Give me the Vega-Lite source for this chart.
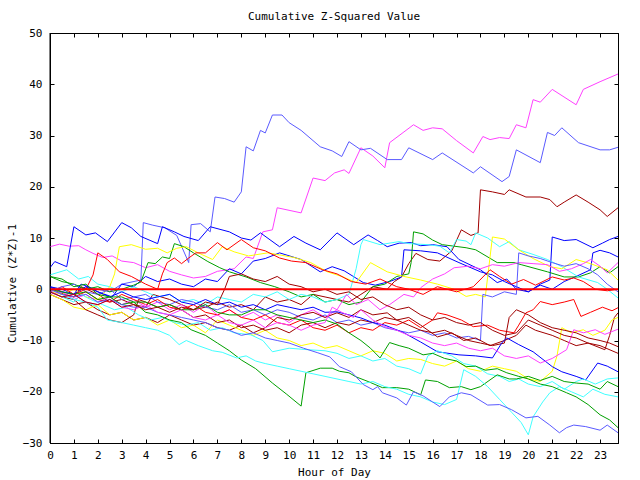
{
"$schema": "https://vega.github.io/schema/vega-lite/v6.json",
"width": 568, "height": 410,
"autosize": {"type": "none"},
"padding": {"left": 50, "top": 33, "right": 22, "bottom": 37},
"background": "white",
"title": {"text": "Cumulative Z-Squared Value", "font": "DejaVu Sans Mono", "fontSize": 11, "fontWeight": "normal", "color": "black", "anchor": "middle", "offset": 5},
"config": {
  "view": {"stroke": "black", "strokeWidth": 1},
  "axis": {"labelFont": "DejaVu Sans Mono", "labelFontSize": 11, "titleFont": "DejaVu Sans Mono", "titleFontSize": 11, "titleFontWeight": "normal", "labelColor": "black", "titleColor": "black", "domainColor": "black", "tickColor": "black", "grid": false}
},
"layer": [
{
"data": {"values": [
{"s":"a","h":0,"v":8.3},{"s":"a","h":0.4,"v":8.8},{"s":"a","h":0.8,"v":8.4},{"s":"a","h":1.2,"v":8.5},{"s":"a","h":1.5,"v":7.7},{"s":"a","h":1.8,"v":7},{"s":"a","h":2.2,"v":6.2},{"s":"a","h":2.6,"v":6.5},{"s":"a","h":3,"v":5.5},{"s":"a","h":3.5,"v":5.2},{"s":"a","h":4,"v":4.2},{"s":"a","h":4.5,"v":4.8},{"s":"a","h":5,"v":3.5},{"s":"a","h":5.5,"v":2.8},{"s":"a","h":6,"v":2.2},{"s":"a","h":6.5,"v":2.5},{"s":"a","h":7,"v":3.5},{"s":"a","h":7.7,"v":4},{"s":"a","h":8.2,"v":6.3},{"s":"a","h":8.5,"v":6},{"s":"a","h":8.9,"v":11.2},{"s":"a","h":9.3,"v":11.6},{"s":"a","h":9.5,"v":15.9},{"s":"a","h":10.5,"v":14.9},{"s":"a","h":11,"v":21.7},{"s":"a","h":11.5,"v":21.2},{"s":"a","h":11.9,"v":22.7},{"s":"a","h":12.3,"v":23.3},{"s":"a","h":12.5,"v":22.6},{"s":"a","h":13,"v":27.6},{"s":"a","h":13.5,"v":26},{"s":"a","h":14,"v":23.7},{"s":"a","h":14.2,"v":28.6},{"s":"a","h":14.8,"v":30.7},{"s":"a","h":15.2,"v":32.1},{"s":"a","h":15.6,"v":31},{"s":"a","h":16,"v":31.5},{"s":"a","h":16.4,"v":31.3},{"s":"a","h":17,"v":29},{"s":"a","h":17.7,"v":26.6},{"s":"a","h":18.1,"v":29.8},{"s":"a","h":18.4,"v":29.2},{"s":"a","h":18.8,"v":29.6},{"s":"a","h":19.2,"v":29.4},{"s":"a","h":19.5,"v":32.1},{"s":"a","h":19.9,"v":31.5},{"s":"a","h":20.2,"v":37},{"s":"a","h":20.5,"v":36.5},{"s":"a","h":21,"v":39},{"s":"a","h":22,"v":36},{"s":"a","h":22.3,"v":39},{"s":"a","h":23,"v":40.5},{"s":"a","h":23.75,"v":42},
{"s":"b","h":0,"v":0.3},{"s":"b","h":0.5,"v":-0.5},{"s":"b","h":1,"v":-1},{"s":"b","h":1.5,"v":0.5},{"s":"b","h":2,"v":0},{"s":"b","h":2.5,"v":-0.5},{"s":"b","h":3,"v":1},{"s":"b","h":3.8,"v":1.8},{"s":"b","h":3.9,"v":13},{"s":"b","h":4.3,"v":12.5},{"s":"b","h":4.8,"v":12},{"s":"b","h":5.3,"v":10.5},{"s":"b","h":5.8,"v":5.2},{"s":"b","h":5.9,"v":12.6},{"s":"b","h":6.3,"v":12.8},{"s":"b","h":6.7,"v":11.2},{"s":"b","h":6.9,"v":18},{"s":"b","h":7.3,"v":17.7},{"s":"b","h":7.7,"v":17},{"s":"b","h":8,"v":19},{"s":"b","h":8.2,"v":27.8},{"s":"b","h":8.5,"v":27},{"s":"b","h":8.8,"v":31},{"s":"b","h":9,"v":30.5},{"s":"b","h":9.3,"v":34},{"s":"b","h":9.7,"v":34},{"s":"b","h":10,"v":32.5},{"s":"b","h":10.5,"v":31},{"s":"b","h":11.3,"v":27.8},{"s":"b","h":11.8,"v":27},{"s":"b","h":12.2,"v":25.9},{"s":"b","h":12.5,"v":28.8},{"s":"b","h":13,"v":27.2},{"s":"b","h":13.4,"v":27.5},{"s":"b","h":14.1,"v":25.3},{"s":"b","h":14.7,"v":25.3},{"s":"b","h":15,"v":27.6},{"s":"b","h":16,"v":25.3},{"s":"b","h":16.4,"v":26.6},{"s":"b","h":17.7,"v":22.7},{"s":"b","h":18,"v":23.9},{"s":"b","h":18.9,"v":21},{"s":"b","h":19.2,"v":22},{"s":"b","h":19.5,"v":27.2},{"s":"b","h":20.5,"v":24.7},{"s":"b","h":20.8,"v":30.6},{"s":"b","h":21.1,"v":30},{"s":"b","h":21.4,"v":31.5},{"s":"b","h":22.1,"v":28.6},{"s":"b","h":23,"v":27.2},{"s":"b","h":23.4,"v":27.2},{"s":"b","h":23.75,"v":27.7},
{"s":"c","h":0,"v":0},{"s":"c","h":0.5,"v":-0.8},{"s":"c","h":1,"v":-1.5},{"s":"c","h":1.3,"v":0.5},{"s":"c","h":2,"v":-1},{"s":"c","h":2.5,"v":-2.5},{"s":"c","h":3,"v":-2},{"s":"c","h":3.5,"v":-3},{"s":"c","h":4,"v":-3.5},{"s":"c","h":4.3,"v":-1},{"s":"c","h":5,"v":-2},{"s":"c","h":5.5,"v":-3},{"s":"c","h":6,"v":-4},{"s":"c","h":6.5,"v":-3.5},{"s":"c","h":7,"v":-2.5},{"s":"c","h":7.5,"v":-3.5},{"s":"c","h":8,"v":-3},{"s":"c","h":8.5,"v":-4},{"s":"c","h":9,"v":-1.5},{"s":"c","h":9.5,"v":-2.5},{"s":"c","h":10,"v":-2},{"s":"c","h":10.5,"v":-3},{"s":"c","h":11,"v":-1},{"s":"c","h":11.5,"v":-1.5},{"s":"c","h":12,"v":-2},{"s":"c","h":12.5,"v":-2.5},{"s":"c","h":13,"v":-1},{"s":"c","h":13.5,"v":0.5},{"s":"c","h":14.1,"v":0},{"s":"c","h":14.4,"v":1.5},{"s":"c","h":14.7,"v":2.4},{"s":"c","h":15,"v":5},{"s":"c","h":15.3,"v":7},{"s":"c","h":15.8,"v":5.8},{"s":"c","h":16.3,"v":5.5},{"s":"c","h":16.8,"v":7.5},{"s":"c","h":17.2,"v":11.6},{"s":"c","h":17.6,"v":10.5},{"s":"c","h":17.9,"v":11},{"s":"c","h":18,"v":19.4},{"s":"c","h":18.5,"v":19},{"s":"c","h":19,"v":18.5},{"s":"c","h":19.2,"v":19.4},{"s":"c","h":19.9,"v":18},{"s":"c","h":20.5,"v":18},{"s":"c","h":20.9,"v":17.5},{"s":"c","h":21.2,"v":16.1},{"s":"c","h":21.5,"v":17},{"s":"c","h":22,"v":18.4},{"s":"c","h":22.5,"v":17},{"s":"c","h":23,"v":15.5},{"s":"c","h":23.3,"v":14.2},{"s":"c","h":23.75,"v":15.9},
{"s":"d","h":0,"v":4.2},{"s":"d","h":0.2,"v":5.4},{"s":"d","h":0.7,"v":4.4},{"s":"d","h":1,"v":12.2},{"s":"d","h":1.5,"v":10.6},{"s":"d","h":1.9,"v":11},{"s":"d","h":2.4,"v":9.3},{"s":"d","h":3,"v":13},{"s":"d","h":3.4,"v":12},{"s":"d","h":3.8,"v":10.3},{"s":"d","h":4.5,"v":8.9},{"s":"d","h":4.7,"v":12.2},{"s":"d","h":5.2,"v":11.2},{"s":"d","h":5.6,"v":10.3},{"s":"d","h":6.2,"v":9.5},{"s":"d","h":6.7,"v":12.2},{"s":"d","h":7.5,"v":11.2},{"s":"d","h":8,"v":10},{"s":"d","h":8.4,"v":9.6},{"s":"d","h":8.8,"v":11},{"s":"d","h":9.6,"v":8.3},{"s":"d","h":10.2,"v":10.3},{"s":"d","h":10.7,"v":9},{"s":"d","h":11.3,"v":7.7},{"s":"d","h":12,"v":11},{"s":"d","h":12.7,"v":8.7},{"s":"d","h":13.3,"v":10.6},{"s":"d","h":13.7,"v":9.5},{"s":"d","h":14.1,"v":8.3},{"s":"d","h":14.6,"v":9},{"s":"d","h":15.1,"v":9.1},{"s":"d","h":15.5,"v":8.5},{"s":"d","h":16,"v":8.7},{"s":"d","h":16.6,"v":8.3},{"s":"d","h":17.1,"v":5.8},{"s":"d","h":18,"v":3.8},{"s":"d","h":18.7,"v":1.3},{"s":"d","h":19.1,"v":2},{"s":"d","h":19.5,"v":0},{"s":"d","h":20,"v":-0.5},{"s":"d","h":20.5,"v":1},{"s":"d","h":20.9,"v":1.8},{"s":"d","h":21,"v":10.2},{"s":"d","h":21.5,"v":9.5},{"s":"d","h":22,"v":9.7},{"s":"d","h":22.7,"v":8.1},{"s":"d","h":23.1,"v":9},{"s":"d","h":23.4,"v":9.7},{"s":"d","h":23.75,"v":10.3},
{"s":"e","h":0,"v":0.5},{"s":"e","h":0.5,"v":0},{"s":"e","h":1,"v":-1},{"s":"e","h":1.5,"v":0.5},{"s":"e","h":2,"v":-0.5},{"s":"e","h":2.6,"v":-1.5},{"s":"e","h":3,"v":1},{"s":"e","h":3.5,"v":0.5},{"s":"e","h":4,"v":2.5},{"s":"e","h":4.5,"v":1.5},{"s":"e","h":5,"v":2},{"s":"e","h":5.5,"v":1},{"s":"e","h":6,"v":0.5},{"s":"e","h":6.5,"v":2},{"s":"e","h":7,"v":1.5},{"s":"e","h":7.5,"v":4},{"s":"e","h":8,"v":3},{"s":"e","h":8.5,"v":5.5},{"s":"e","h":9,"v":6},{"s":"e","h":9.6,"v":7.1},{"s":"e","h":10.5,"v":5.8},{"s":"e","h":11.3,"v":3.4},{"s":"e","h":11.8,"v":4.4},{"s":"e","h":12.3,"v":3.6},{"s":"e","h":13.1,"v":1.3},{"s":"e","h":13.6,"v":0.8},{"s":"e","h":14.2,"v":1.5},{"s":"e","h":14.7,"v":2.4},{"s":"e","h":14.8,"v":7.7},{"s":"e","h":15.5,"v":7.5},{"s":"e","h":16.2,"v":7.1},{"s":"e","h":17.1,"v":5.2},{"s":"e","h":18,"v":3.4},{"s":"e","h":18.5,"v":2.8},{"s":"e","h":19,"v":1.5},{"s":"e","h":19.5,"v":0.5},{"s":"e","h":20,"v":-0.5},{"s":"e","h":20.5,"v":0.8},{"s":"e","h":21,"v":0},{"s":"e","h":21.5,"v":1.5},{"s":"e","h":22,"v":2.5},{"s":"e","h":22.6,"v":3.8},{"s":"e","h":22.7,"v":7.1},{"s":"e","h":23,"v":7.6},{"s":"e","h":23.4,"v":7.1},{"s":"e","h":23.75,"v":6.3},
{"s":"f","h":0,"v":2.5},{"s":"f","h":0.5,"v":1.5},{"s":"f","h":1,"v":1},{"s":"f","h":1.5,"v":0},{"s":"f","h":2,"v":0.5},{"s":"f","h":2.5,"v":-0.5},{"s":"f","h":3,"v":0},{"s":"f","h":3.5,"v":0.8},{"s":"f","h":3.8,"v":1.4},{"s":"f","h":4.1,"v":5.2},{"s":"f","h":4.4,"v":5},{"s":"f","h":4.7,"v":6.3},{"s":"f","h":5,"v":6},{"s":"f","h":5.2,"v":8.9},{"s":"f","h":5.6,"v":8.3},{"s":"f","h":6,"v":7.1},{"s":"f","h":6.6,"v":5.4},{"s":"f","h":7.1,"v":4.2},{"s":"f","h":7.5,"v":3.4},{"s":"f","h":8.2,"v":2.4},{"s":"f","h":8.8,"v":1.3},{"s":"f","h":9.4,"v":0.5},{"s":"f","h":10,"v":-0.5},{"s":"f","h":10.5,"v":-1.5},{"s":"f","h":11,"v":-1},{"s":"f","h":11.5,"v":-2.5},{"s":"f","h":12,"v":-2},{"s":"f","h":12.5,"v":-3},{"s":"f","h":13,"v":-2.5},{"s":"f","h":13.5,"v":0.5},{"s":"f","h":14,"v":1},{"s":"f","h":14.5,"v":2.5},{"s":"f","h":15,"v":3},{"s":"f","h":15.1,"v":5.2},{"s":"f","h":15.2,"v":11.2},{"s":"f","h":15.6,"v":10.8},{"s":"f","h":16,"v":9.6},{"s":"f","h":16.4,"v":8.7},{"s":"f","h":17.4,"v":8.1},{"s":"f","h":17.8,"v":7.7},{"s":"f","h":18.7,"v":5.2},{"s":"f","h":19.4,"v":5.2},{"s":"f","h":19.7,"v":4.8},{"s":"f","h":20.8,"v":3.4},{"s":"f","h":21.5,"v":2.4},{"s":"f","h":22.1,"v":2.4},{"s":"f","h":22.6,"v":3.2},{"s":"f","h":23,"v":4.4},{"s":"f","h":23.4,"v":3.2},{"s":"f","h":23.75,"v":4.4},
{"s":"g","h":0,"v":2.8},{"s":"g","h":0.7,"v":3.8},{"s":"g","h":1.2,"v":2},{"s":"g","h":1.6,"v":2.5},{"s":"g","h":2,"v":1},{"s":"g","h":2.5,"v":0.5},{"s":"g","h":3,"v":-0.5},{"s":"g","h":3.5,"v":0.5},{"s":"g","h":4,"v":-0.5},{"s":"g","h":4.5,"v":-1.5},{"s":"g","h":5,"v":-1},{"s":"g","h":5.5,"v":-2.5},{"s":"g","h":6,"v":-2},{"s":"g","h":6.5,"v":-3},{"s":"g","h":7,"v":-1.5},{"s":"g","h":7.5,"v":-2},{"s":"g","h":8,"v":-2.5},{"s":"g","h":8.5,"v":-1},{"s":"g","h":9,"v":-1.5},{"s":"g","h":9.5,"v":-0.5},{"s":"g","h":10,"v":-2},{"s":"g","h":10.5,"v":-1},{"s":"g","h":11,"v":-1.5},{"s":"g","h":11.5,"v":-2.5},{"s":"g","h":12,"v":-2},{"s":"g","h":12.5,"v":-1},{"s":"g","h":12.8,"v":4},{"s":"g","h":13,"v":8.7},{"s":"g","h":13.1,"v":9.7},{"s":"g","h":13.8,"v":8.7},{"s":"g","h":14.6,"v":9.3},{"s":"g","h":15,"v":8.9},{"s":"g","h":15.8,"v":8.7},{"s":"g","h":16.3,"v":8.4},{"s":"g","h":16.7,"v":7.1},{"s":"g","h":17,"v":9.7},{"s":"g","h":17.4,"v":9.4},{"s":"g","h":17.6,"v":8.7},{"s":"g","h":17.8,"v":11},{"s":"g","h":18.3,"v":10},{"s":"g","h":18.8,"v":8.3},{"s":"g","h":19.2,"v":9.3},{"s":"g","h":19.6,"v":7.7},{"s":"g","h":20.2,"v":6.8},{"s":"g","h":20.8,"v":5.8},{"s":"g","h":21.4,"v":4.4},{"s":"g","h":22.1,"v":2.4},{"s":"g","h":22.9,"v":1.3},{"s":"g","h":23.3,"v":0},{"s":"g","h":23.75,"v":-1.7},
{"s":"h","h":0,"v":-0.5},{"s":"h","h":0.5,"v":-1},{"s":"h","h":1,"v":0},{"s":"h","h":1.5,"v":-1.5},{"s":"h","h":2,"v":-2},{"s":"h","h":2.5,"v":0.5},{"s":"h","h":2.7,"v":3},{"s":"h","h":2.9,"v":8.3},{"s":"h","h":3.4,"v":8.7},{"s":"h","h":4,"v":7.8},{"s":"h","h":4.5,"v":8},{"s":"h","h":4.9,"v":7.1},{"s":"h","h":5.3,"v":8},{"s":"h","h":5.7,"v":8.3},{"s":"h","h":6.2,"v":7.1},{"s":"h","h":6.8,"v":5.8},{"s":"h","h":7.2,"v":8.3},{"s":"h","h":7.7,"v":7.3},{"s":"h","h":8.3,"v":6.5},{"s":"h","h":9.1,"v":7.1},{"s":"h","h":9.6,"v":6.7},{"s":"h","h":10.2,"v":6.2},{"s":"h","h":10.9,"v":5.2},{"s":"h","h":11.6,"v":3.4},{"s":"h","h":12.2,"v":2.5},{"s":"h","h":12.8,"v":1.3},{"s":"h","h":13.4,"v":5.2},{"s":"h","h":14.1,"v":3.4},{"s":"h","h":14.8,"v":2.5},{"s":"h","h":15.5,"v":1.8},{"s":"h","h":16.2,"v":1},{"s":"h","h":16.9,"v":0},{"s":"h","h":17.4,"v":-1.4},{"s":"h","h":17.8,"v":-1},{"s":"h","h":18.2,"v":-1.5},{"s":"h","h":18.5,"v":10.2},{"s":"h","h":19,"v":9.8},{"s":"h","h":19.6,"v":7.7},{"s":"h","h":20.2,"v":6},{"s":"h","h":20.9,"v":4.4},{"s":"h","h":21.4,"v":4},{"s":"h","h":22,"v":5.8},{"s":"h","h":22.6,"v":5},{"s":"h","h":23.3,"v":3.8},{"s":"h","h":23.75,"v":1.8},
{"s":"i","h":0,"v":-1},{"s":"i","h":0.5,"v":-0.5},{"s":"i","h":1,"v":-2},{"s":"i","h":1.5,"v":-1},{"s":"i","h":2,"v":-2.5},{"s":"i","h":2.5,"v":-1.5},{"s":"i","h":3,"v":-3},{"s":"i","h":3.5,"v":-2},{"s":"i","h":4,"v":-3.5},{"s":"i","h":4.5,"v":-2.5},{"s":"i","h":5,"v":-4},{"s":"i","h":5.5,"v":-3},{"s":"i","h":6,"v":-4.5},{"s":"i","h":6.5,"v":-3},{"s":"i","h":7,"v":-5},{"s":"i","h":7.5,"v":-4},{"s":"i","h":8,"v":-5.5},{"s":"i","h":8.5,"v":-4.5},{"s":"i","h":9,"v":-6},{"s":"i","h":9.5,"v":-5},{"s":"i","h":10,"v":-6.5},{"s":"i","h":10.5,"v":-5},{"s":"i","h":11,"v":-4},{"s":"i","h":11.5,"v":-5.5},{"s":"i","h":12,"v":-4},{"s":"i","h":12.4,"v":-1},{"s":"i","h":12.8,"v":-3},{"s":"i","h":13.3,"v":-2},{"s":"i","h":13.8,"v":-4},{"s":"i","h":14.2,"v":-3},{"s":"i","h":14.8,"v":-1},{"s":"i","h":15.2,"v":-1.5},{"s":"i","h":15.5,"v":0.3},{"s":"i","h":16,"v":2},{"s":"i","h":16.5,"v":3},{"s":"i","h":16.9,"v":4.2},{"s":"i","h":17.5,"v":4.5},{"s":"i","h":18,"v":4},{"s":"i","h":18.5,"v":4.8},{"s":"i","h":19,"v":4.5},{"s":"i","h":19.6,"v":5.2},{"s":"i","h":20.2,"v":5},{"s":"i","h":20.8,"v":4.8},{"s":"i","h":21.3,"v":3.5},{"s":"i","h":21.8,"v":4},{"s":"i","h":22.3,"v":5},{"s":"i","h":22.6,"v":5.8},{"s":"i","h":23,"v":4.5},{"s":"i","h":23.3,"v":3.2},{"s":"i","h":23.75,"v":5.2},
{"s":"j","h":0,"v":-0.5},{"s":"j","h":0.5,"v":0.5},{"s":"j","h":1,"v":-1},{"s":"j","h":1.5,"v":0},{"s":"j","h":1.8,"v":2.8},{"s":"j","h":2,"v":7.1},{"s":"j","h":2.4,"v":5.8},{"s":"j","h":2.9,"v":3.4},{"s":"j","h":3.4,"v":2.5},{"s":"j","h":4,"v":1},{"s":"j","h":4.5,"v":0},{"s":"j","h":4.7,"v":3},{"s":"j","h":4.9,"v":5.2},{"s":"j","h":5.2,"v":6.1},{"s":"j","h":5.5,"v":5},{"s":"j","h":5.8,"v":6.1},{"s":"j","h":6.1,"v":7.1},{"s":"j","h":6.5,"v":7.1},{"s":"j","h":7,"v":9.1},{"s":"j","h":7.4,"v":7.7},{"s":"j","h":8,"v":9.7},{"s":"j","h":8.5,"v":8.1},{"s":"j","h":9,"v":7.5},{"s":"j","h":9.6,"v":6.1},{"s":"j","h":10.1,"v":5.5},{"s":"j","h":10.7,"v":5.2},{"s":"j","h":11.4,"v":3.8},{"s":"j","h":12,"v":3},{"s":"j","h":12.6,"v":1.5},{"s":"j","h":13.2,"v":1},{"s":"j","h":13.8,"v":2},{"s":"j","h":14.5,"v":0.5},{"s":"j","h":15,"v":0},{"s":"j","h":15.6,"v":-1},{"s":"j","h":16.2,"v":0.5},{"s":"j","h":17,"v":-0.5},{"s":"j","h":17.7,"v":0.5},{"s":"j","h":18.4,"v":3.8},{"s":"j","h":18.8,"v":2.5},{"s":"j","h":19.3,"v":1},{"s":"j","h":19.8,"v":1.9},{"s":"j","h":20.3,"v":0.8},{"s":"j","h":21,"v":2.4},{"s":"j","h":21.5,"v":1.8},{"s":"j","h":21.9,"v":2.2},{"s":"j","h":22.3,"v":1.5},{"s":"j","h":22.8,"v":0},{"s":"j","h":23.3,"v":-0.3},{"s":"j","h":23.75,"v":0},
{"s":"k","h":0,"v":-0.5},{"s":"k","h":0.5,"v":0.5},{"s":"k","h":1,"v":1},{"s":"k","h":1.5,"v":-0.5},{"s":"k","h":2,"v":-1},{"s":"k","h":2.5,"v":0},{"s":"k","h":3,"v":-2},{"s":"k","h":3.5,"v":-1.5},{"s":"k","h":4,"v":-1},{"s":"k","h":4.5,"v":-2.5},{"s":"k","h":5,"v":-3},{"s":"k","h":5.5,"v":-2},{"s":"k","h":6,"v":-2.5},{"s":"k","h":6.5,"v":-3.5},{"s":"k","h":7,"v":-4},{"s":"k","h":7.5,"v":-3},{"s":"k","h":8,"v":-4.5},{"s":"k","h":8.5,"v":-4},{"s":"k","h":9,"v":-5},{"s":"k","h":9.5,"v":-4},{"s":"k","h":10,"v":-4.5},{"s":"k","h":10.5,"v":-5.5},{"s":"k","h":11,"v":-6},{"s":"k","h":11.5,"v":-5},{"s":"k","h":12,"v":-6.5},{"s":"k","h":12.5,"v":-6},{"s":"k","h":13,"v":-7},{"s":"k","h":13.5,"v":-6.5},{"s":"k","h":14,"v":-7.5},{"s":"k","h":14.5,"v":-8},{"s":"k","h":15,"v":-8.5},{"s":"k","h":15.5,"v":-8},{"s":"k","h":16,"v":-9},{"s":"k","h":16.5,"v":-8.5},{"s":"k","h":17,"v":-9.5},{"s":"k","h":17.5,"v":-9.2},{"s":"k","h":18,"v":-10},{"s":"k","h":18.1,"v":-1},{"s":"k","h":18.5,"v":-1.5},{"s":"k","h":19,"v":-0.5},{"s":"k","h":19.5,"v":-1},{"s":"k","h":19.6,"v":7.1},{"s":"k","h":20,"v":6.5},{"s":"k","h":20.5,"v":6},{"s":"k","h":21,"v":5.2},{"s":"k","h":21.5,"v":4.5},{"s":"k","h":22,"v":5},{"s":"k","h":22.5,"v":4},{"s":"k","h":22.9,"v":2.8},{"s":"k","h":23.3,"v":1},{"s":"k","h":23.75,"v":-0.5},
{"s":"l","h":0,"v":0},{"s":"l","h":0.5,"v":-1},{"s":"l","h":1,"v":-1.5},{"s":"l","h":1.5,"v":-0.5},{"s":"l","h":2,"v":-2},{"s":"l","h":2.5,"v":-2.5},{"s":"l","h":3,"v":-1},{"s":"l","h":3.5,"v":-2},{"s":"l","h":4,"v":-3},{"s":"l","h":4.5,"v":-2},{"s":"l","h":5,"v":-3.5},{"s":"l","h":5.5,"v":-4},{"s":"l","h":6,"v":-3},{"s":"l","h":6.5,"v":-4.5},{"s":"l","h":7,"v":-5},{"s":"l","h":7.5,"v":-4},{"s":"l","h":8,"v":-5.5},{"s":"l","h":8.5,"v":-6},{"s":"l","h":9,"v":-5},{"s":"l","h":9.5,"v":-6.5},{"s":"l","h":10,"v":-7},{"s":"l","h":10.5,"v":-6},{"s":"l","h":11,"v":-7.5},{"s":"l","h":11.5,"v":-8},{"s":"l","h":12,"v":-7},{"s":"l","h":12.5,"v":-8.5},{"s":"l","h":13,"v":-7.5},{"s":"l","h":13.5,"v":-8},{"s":"l","h":14,"v":-6.5},{"s":"l","h":14.5,"v":-7},{"s":"l","h":15,"v":-6},{"s":"l","h":15.5,"v":-7.5},{"s":"l","h":16,"v":-6},{"s":"l","h":16.2,"v":-4.6},{"s":"l","h":16.6,"v":-5},{"s":"l","h":17.2,"v":-6},{"s":"l","h":17.7,"v":-7.3},{"s":"l","h":18.3,"v":-7},{"s":"l","h":18.8,"v":-8},{"s":"l","h":19.4,"v":-8.5},{"s":"l","h":19.6,"v":-7},{"s":"l","h":19.9,"v":-4.6},{"s":"l","h":20.2,"v":-4},{"s":"l","h":20.5,"v":-2.4},{"s":"l","h":21,"v":-3},{"s":"l","h":21.5,"v":-2.5},{"s":"l","h":21.9,"v":-2},{"s":"l","h":22.2,"v":-5.3},{"s":"l","h":22.6,"v":-4.5},{"s":"l","h":23.1,"v":-3.5},{"s":"l","h":23.5,"v":-4.2},{"s":"l","h":23.75,"v":-3.6},
{"s":"m","h":0,"v":-1},{"s":"m","h":0.5,"v":-2},{"s":"m","h":1,"v":-3},{"s":"m","h":1.5,"v":-2.5},{"s":"m","h":2,"v":-4},{"s":"m","h":2.5,"v":-5},{"s":"m","h":3,"v":-4.5},{"s":"m","h":3.5,"v":-6},{"s":"m","h":4,"v":-5.5},{"s":"m","h":4.5,"v":-6.5},{"s":"m","h":5,"v":-5},{"s":"m","h":5.5,"v":-6},{"s":"m","h":6,"v":-7},{"s":"m","h":6.5,"v":-6.5},{"s":"m","h":7,"v":-7.5},{"s":"m","h":7.5,"v":-8},{"s":"m","h":8,"v":-7},{"s":"m","h":8.5,"v":-8.5},{"s":"m","h":9,"v":-7.5},{"s":"m","h":9.5,"v":-5.5},{"s":"m","h":10,"v":-6},{"s":"m","h":10.5,"v":-5},{"s":"m","h":11,"v":-4.5},{"s":"m","h":11.5,"v":-5.5},{"s":"m","h":12,"v":-4.6},{"s":"m","h":12.5,"v":-5.5},{"s":"m","h":13,"v":-4},{"s":"m","h":13.5,"v":-5},{"s":"m","h":14.1,"v":-4.6},{"s":"m","h":14.5,"v":-6},{"s":"m","h":15,"v":-5.5},{"s":"m","h":15.5,"v":-7},{"s":"m","h":16.2,"v":-9.3},{"s":"m","h":16.8,"v":-8.5},{"s":"m","h":17.3,"v":-10},{"s":"m","h":17.8,"v":-9.5},{"s":"m","h":18.4,"v":-11},{"s":"m","h":19,"v":-10},{"s":"m","h":19.5,"v":-9},{"s":"m","h":19.9,"v":-7},{"s":"m","h":20.3,"v":-8},{"s":"m","h":21,"v":-9},{"s":"m","h":21.5,"v":-10},{"s":"m","h":22,"v":-11},{"s":"m","h":22.5,"v":-10.5},{"s":"m","h":23.2,"v":-11.8},{"s":"m","h":23.4,"v":-9},{"s":"m","h":23.6,"v":-5.5},{"s":"m","h":23.75,"v":-4.6},
{"s":"n","h":0,"v":-1},{"s":"n","h":0.5,"v":-2},{"s":"n","h":1,"v":-3.5},{"s":"n","h":1.5,"v":-4},{"s":"n","h":2,"v":-3},{"s":"n","h":2.5,"v":-5},{"s":"n","h":3,"v":-4.5},{"s":"n","h":3.5,"v":-6},{"s":"n","h":4,"v":-5.5},{"s":"n","h":4.5,"v":-7},{"s":"n","h":5,"v":-6},{"s":"n","h":5.5,"v":-7.5},{"s":"n","h":6,"v":-7},{"s":"n","h":6.5,"v":-8.5},{"s":"n","h":7,"v":-6},{"s":"n","h":7.5,"v":-7},{"s":"n","h":8,"v":-8},{"s":"n","h":8.5,"v":-9},{"s":"n","h":9,"v":-8},{"s":"n","h":9.5,"v":-9.5},{"s":"n","h":10,"v":-10},{"s":"n","h":10.5,"v":-11},{"s":"n","h":11,"v":-10.5},{"s":"n","h":11.5,"v":-11.5},{"s":"n","h":12,"v":-11},{"s":"n","h":12.5,"v":-12},{"s":"n","h":13,"v":-13},{"s":"n","h":13.5,"v":-12},{"s":"n","h":14,"v":-12.5},{"s":"n","h":14.5,"v":-14},{"s":"n","h":15,"v":-13.5},{"s":"n","h":15.5,"v":-13.7},{"s":"n","h":16,"v":-14.5},{"s":"n","h":16.5,"v":-15},{"s":"n","h":17,"v":-14},{"s":"n","h":17.5,"v":-15.5},{"s":"n","h":18,"v":-16},{"s":"n","h":18.5,"v":-15},{"s":"n","h":19,"v":-15.5},{"s":"n","h":19.5,"v":-16},{"s":"n","h":20,"v":-17.5},{"s":"n","h":20.5,"v":-18},{"s":"n","h":21,"v":-16},{"s":"n","h":21.2,"v":-13},{"s":"n","h":21.4,"v":-7.5},{"s":"n","h":21.8,"v":-8.5},{"s":"n","h":22.3,"v":-7.9},{"s":"n","h":22.7,"v":-9},{"s":"n","h":23.2,"v":-8},{"s":"n","h":23.5,"v":-6},{"s":"n","h":23.75,"v":-5.5},
{"s":"o","h":0,"v":-0.5},{"s":"o","h":0.5,"v":-1.5},{"s":"o","h":1,"v":-2},{"s":"o","h":1.5,"v":-4},{"s":"o","h":2,"v":-5},{"s":"o","h":2.5,"v":-6},{"s":"o","h":3,"v":-6.5},{"s":"o","h":3.5,"v":-5},{"s":"o","h":3.7,"v":-2},{"s":"o","h":4,"v":-2.5},{"s":"o","h":4.5,"v":-3.5},{"s":"o","h":5,"v":-3},{"s":"o","h":5.5,"v":-4},{"s":"o","h":6,"v":-5.5},{"s":"o","h":6.5,"v":-5},{"s":"o","h":7,"v":-6.5},{"s":"o","h":7.5,"v":-6},{"s":"o","h":8,"v":-7.5},{"s":"o","h":8.5,"v":-7},{"s":"o","h":9,"v":-8},{"s":"o","h":9.5,"v":-7.5},{"s":"o","h":10,"v":-8.5},{"s":"o","h":10.5,"v":-7},{"s":"o","h":11,"v":-6.5},{"s":"o","h":11.5,"v":-7.5},{"s":"o","h":12,"v":-6.5},{"s":"o","h":12.5,"v":-7},{"s":"o","h":13,"v":-6},{"s":"o","h":13.5,"v":-6.5},{"s":"o","h":14,"v":-5.5},{"s":"o","h":14.5,"v":-6},{"s":"o","h":15,"v":-7},{"s":"o","h":15.5,"v":-8},{"s":"o","h":16,"v":-8.5},{"s":"o","h":16.5,"v":-8},{"s":"o","h":17,"v":-9},{"s":"o","h":17.5,"v":-10},{"s":"o","h":18,"v":-10.5},{"s":"o","h":18.5,"v":-11},{"s":"o","h":19,"v":-10.5},{"s":"o","h":19.2,"v":-5.5},{"s":"o","h":19.5,"v":-4},{"s":"o","h":20,"v":-5},{"s":"o","h":20.5,"v":-6.5},{"s":"o","h":21,"v":-7.5},{"s":"o","h":21.5,"v":-8},{"s":"o","h":22,"v":-8.5},{"s":"o","h":22.5,"v":-9.5},{"s":"o","h":23,"v":-10},{"s":"o","h":23.4,"v":-10.5},{"s":"o","h":23.75,"v":-11.2},
{"s":"p","h":0,"v":0.5},{"s":"p","h":0.5,"v":-0.5},{"s":"p","h":1,"v":-1},{"s":"p","h":1.3,"v":1},{"s":"p","h":1.6,"v":0.5},{"s":"p","h":2,"v":-0.5},{"s":"p","h":2.5,"v":-1.5},{"s":"p","h":3,"v":-0.5},{"s":"p","h":3.5,"v":-1.5},{"s":"p","h":4,"v":-2},{"s":"p","h":4.5,"v":-1.5},{"s":"p","h":5,"v":-1},{"s":"p","h":5.5,"v":-2.5},{"s":"p","h":6,"v":-3},{"s":"p","h":6.5,"v":-2},{"s":"p","h":7,"v":-3},{"s":"p","h":7.5,"v":-2.5},{"s":"p","h":8,"v":-3.5},{"s":"p","h":8.5,"v":-3},{"s":"p","h":9,"v":-4},{"s":"p","h":9.5,"v":-3},{"s":"p","h":10,"v":-3.5},{"s":"p","h":10.5,"v":-4},{"s":"p","h":11,"v":-3.5},{"s":"p","h":11.5,"v":-4.5},{"s":"p","h":12,"v":-4.4},{"s":"p","h":12.5,"v":-5},{"s":"p","h":13,"v":-5.6},{"s":"p","h":13.5,"v":-6.5},{"s":"p","h":14,"v":-7},{"s":"p","h":14.8,"v":-8.5},{"s":"p","h":15.5,"v":-10.3},{"s":"p","h":16.2,"v":-12.2},{"s":"p","h":17.1,"v":-12.8},{"s":"p","h":17.8,"v":-13},{"s":"p","h":18.5,"v":-13.4},{"s":"p","h":18.9,"v":-10.4},{"s":"p","h":19.1,"v":-9.5},{"s":"p","h":19.6,"v":-10.8},{"s":"p","h":20.2,"v":-12.2},{"s":"p","h":21,"v":-15.1},{"s":"p","h":21.4,"v":-16.1},{"s":"p","h":22,"v":-17},{"s":"p","h":22.4,"v":-17.7},{"s":"p","h":22.9,"v":-14.4},{"s":"p","h":23.3,"v":-15},{"s":"p","h":23.75,"v":-16.1},
{"s":"q","h":0,"v":-0.5},{"s":"q","h":0.5,"v":-1.5},{"s":"q","h":1,"v":-2.5},{"s":"q","h":1.3,"v":-1},{"s":"q","h":1.7,"v":-2},{"s":"q","h":2.2,"v":-3},{"s":"q","h":2.7,"v":-4},{"s":"q","h":3.2,"v":-3.5},{"s":"q","h":3.7,"v":-5},{"s":"q","h":4.2,"v":-6},{"s":"q","h":4.7,"v":-5.5},{"s":"q","h":5.2,"v":-6.5},{"s":"q","h":5.7,"v":-7},{"s":"q","h":6.2,"v":-6.5},{"s":"q","h":6.7,"v":-8},{"s":"q","h":7.2,"v":-7.5},{"s":"q","h":7.7,"v":-8.5},{"s":"q","h":8.4,"v":-8.9},{"s":"q","h":8.9,"v":-10},{"s":"q","h":9.3,"v":-12.2},{"s":"q","h":10,"v":-11.5},{"s":"q","h":10.8,"v":-11.8},{"s":"q","h":11.5,"v":-12},{"s":"q","h":12,"v":-12.5},{"s":"q","h":12.5,"v":-13.5},{"s":"q","h":13,"v":-13},{"s":"q","h":13.5,"v":-14},{"s":"q","h":14,"v":-13.5},{"s":"q","h":14.5,"v":-15},{"s":"q","h":15,"v":-15.5},{"s":"q","h":15.5,"v":-16.5},{"s":"q","h":15.8,"v":-13},{"s":"q","h":16.2,"v":-12},{"s":"q","h":16.8,"v":-13},{"s":"q","h":17.3,"v":-14.5},{"s":"q","h":17.8,"v":-15},{"s":"q","h":18.3,"v":-16.5},{"s":"q","h":18.8,"v":-17},{"s":"q","h":19.2,"v":-18},{"s":"q","h":19.6,"v":-17.5},{"s":"q","h":20,"v":-18.5},{"s":"q","h":20.5,"v":-19},{"s":"q","h":21,"v":-18},{"s":"q","h":21.5,"v":-19.5},{"s":"q","h":22,"v":-18},{"s":"q","h":22.3,"v":-17.5},{"s":"q","h":22.8,"v":-18.5},{"s":"q","h":23.3,"v":-17.5},{"s":"q","h":23.75,"v":-17.3},
{"s":"r","h":0,"v":2.5},{"s":"r","h":0.5,"v":2},{"s":"r","h":1,"v":0.5},{"s":"r","h":1.5,"v":1},{"s":"r","h":2,"v":-1},{"s":"r","h":2.5,"v":-1.5},{"s":"r","h":3,"v":-3},{"s":"r","h":3.5,"v":-2.5},{"s":"r","h":4,"v":-4.5},{"s":"r","h":4.5,"v":-5},{"s":"r","h":5,"v":-6},{"s":"r","h":5.5,"v":-6.5},{"s":"r","h":5.9,"v":-7.9},{"s":"r","h":6.5,"v":-9},{"s":"r","h":7,"v":-10.5},{"s":"r","h":7.5,"v":-12},{"s":"r","h":8,"v":-13.8},{"s":"r","h":8.6,"v":-15.5},{"s":"r","h":9.3,"v":-18.3},{"s":"r","h":9.9,"v":-20.5},{"s":"r","h":10.5,"v":-22.8},{"s":"r","h":10.7,"v":-16.3},{"s":"r","h":11.3,"v":-15.4},{"s":"r","h":11.8,"v":-15.4},{"s":"r","h":12.1,"v":-16},{"s":"r","h":12.5,"v":-16.3},{"s":"r","h":12.8,"v":-17.1},{"s":"r","h":13.3,"v":-18},{"s":"r","h":13.9,"v":-19.2},{"s":"r","h":14.5,"v":-19.2},{"s":"r","h":15,"v":-19.5},{"s":"r","h":15.5,"v":-20.6},{"s":"r","h":15.7,"v":-17.7},{"s":"r","h":16.2,"v":-18},{"s":"r","h":16.7,"v":-19.2},{"s":"r","h":17.2,"v":-19},{"s":"r","h":17.6,"v":-19.6},{"s":"r","h":18,"v":-19},{"s":"r","h":18.7,"v":-16.7},{"s":"r","h":19.2,"v":-17.5},{"s":"r","h":19.5,"v":-17.5},{"s":"r","h":20,"v":-17},{"s":"r","h":20.5,"v":-17.8},{"s":"r","h":21,"v":-17},{"s":"r","h":21.5,"v":-18},{"s":"r","h":22,"v":-18.3},{"s":"r","h":22.5,"v":-18.5},{"s":"r","h":23,"v":-19.5},{"s":"r","h":23.3,"v":-18},{"s":"r","h":23.75,"v":-19},
{"s":"s","h":0,"v":0},{"s":"s","h":0.5,"v":-1},{"s":"s","h":1,"v":-2},{"s":"s","h":1.5,"v":-2.5},{"s":"s","h":2,"v":-3.5},{"s":"s","h":2.4,"v":-6},{"s":"s","h":3,"v":-6.5},{"s":"s","h":3.5,"v":-7},{"s":"s","h":4,"v":-7.5},{"s":"s","h":4.5,"v":-8},{"s":"s","h":5,"v":-9},{"s":"s","h":5.4,"v":-10.8},{"s":"s","h":5.7,"v":-10},{"s":"s","h":6.2,"v":-11},{"s":"s","h":6.8,"v":-12},{"s":"s","h":7.2,"v":-12.3},{"s":"s","h":7.8,"v":-13.4},{"s":"s","h":8.2,"v":-13},{"s":"s","h":8.6,"v":-14},{"s":"s","h":9,"v":-14.5},{"s":"s","h":9.5,"v":-15},{"s":"s","h":10,"v":-15.5},{"s":"s","h":10.5,"v":-16},{"s":"s","h":11,"v":-16.5},{"s":"s","h":11.5,"v":-17},{"s":"s","h":12,"v":-17.5},{"s":"s","h":12.5,"v":-18},{"s":"s","h":13,"v":-18.5},{"s":"s","h":13.5,"v":-18},{"s":"s","h":14,"v":-19},{"s":"s","h":14.5,"v":-19.5},{"s":"s","h":15,"v":-20.5},{"s":"s","h":15.5,"v":-21},{"s":"s","h":16,"v":-22},{"s":"s","h":16.5,"v":-22.5},{"s":"s","h":17,"v":-21.5},{"s":"s","h":17.3,"v":-15.7},{"s":"s","h":17.8,"v":-17},{"s":"s","h":18.3,"v":-19},{"s":"s","h":18.8,"v":-21.5},{"s":"s","h":19.3,"v":-24},{"s":"s","h":19.7,"v":-26},{"s":"s","h":20,"v":-28.4},{"s":"s","h":20.2,"v":-24.9},{"s":"s","h":20.6,"v":-22},{"s":"s","h":20.9,"v":-20.2},{"s":"s","h":21.3,"v":-19},{"s":"s","h":21.8,"v":-20},{"s":"s","h":22.3,"v":-21},{"s":"s","h":22.7,"v":-19.5},{"s":"s","h":23.2,"v":-20.5},{"s":"s","h":23.75,"v":-21},
{"s":"t","h":0,"v":0},{"s":"t","h":0.5,"v":-0.5},{"s":"t","h":1,"v":-1},{"s":"t","h":1.5,"v":-0.5},{"s":"t","h":2,"v":-2},{"s":"t","h":2.5,"v":-1.5},{"s":"t","h":3,"v":-1.5},{"s":"t","h":3.5,"v":-2.5},{"s":"t","h":4,"v":-2.5},{"s":"t","h":4.5,"v":-3.5},{"s":"t","h":5,"v":-3},{"s":"t","h":5.5,"v":-4},{"s":"t","h":6,"v":-4},{"s":"t","h":6.5,"v":-3},{"s":"t","h":7,"v":-4.5},{"s":"t","h":7.5,"v":-5},{"s":"t","h":8,"v":-5},{"s":"t","h":8.5,"v":-4},{"s":"t","h":9,"v":-4},{"s":"t","h":9.5,"v":-5},{"s":"t","h":10,"v":-5.5},{"s":"t","h":10.5,"v":-6},{"s":"t","h":11,"v":-6.5},{"s":"t","h":11.5,"v":-6},{"s":"t","h":12,"v":-6.8},{"s":"t","h":12.5,"v":-8.5},{"s":"t","h":13,"v":-10},{"s":"t","h":13.4,"v":-11.5},{"s":"t","h":13.8,"v":-13.4},{"s":"t","h":14.2,"v":-10.4},{"s":"t","h":14.6,"v":-11},{"s":"t","h":15,"v":-11.5},{"s":"t","h":15.6,"v":-12.8},{"s":"t","h":16,"v":-12.5},{"s":"t","h":16.5,"v":-13.5},{"s":"t","h":17,"v":-14},{"s":"t","h":17.4,"v":-15.1},{"s":"t","h":17.8,"v":-15},{"s":"t","h":18.2,"v":-15.8},{"s":"t","h":18.7,"v":-15.5},{"s":"t","h":19.1,"v":-16.3},{"s":"t","h":19.6,"v":-17},{"s":"t","h":20,"v":-17.5},{"s":"t","h":20.5,"v":-18.5},{"s":"t","h":21,"v":-19},{"s":"t","h":21.6,"v":-20.2},{"s":"t","h":22,"v":-21},{"s":"t","h":22.5,"v":-22.5},{"s":"t","h":23,"v":-24.5},{"s":"t","h":23.4,"v":-25.5},{"s":"t","h":23.75,"v":-27},
{"s":"u","h":0,"v":0},{"s":"u","h":0.5,"v":-1},{"s":"u","h":1,"v":-1.5},{"s":"u","h":1.5,"v":-1},{"s":"u","h":2,"v":-2.5},{"s":"u","h":2.5,"v":-2},{"s":"u","h":3,"v":-3},{"s":"u","h":3.5,"v":-3.5},{"s":"u","h":4,"v":-3.5},{"s":"u","h":4.5,"v":-4.5},{"s":"u","h":5,"v":-5},{"s":"u","h":5.5,"v":-5.5},{"s":"u","h":6,"v":-6},{"s":"u","h":6.5,"v":-6.5},{"s":"u","h":7,"v":-7.5},{"s":"u","h":7.5,"v":-8},{"s":"u","h":8,"v":-9},{"s":"u","h":8.5,"v":-8.5},{"s":"u","h":9,"v":-9.5},{"s":"u","h":9.5,"v":-10},{"s":"u","h":10,"v":-10.5},{"s":"u","h":10.6,"v":-11.5},{"s":"u","h":11.2,"v":-12.4},{"s":"u","h":11.7,"v":-13.2},{"s":"u","h":12.1,"v":-15.1},{"s":"u","h":12.6,"v":-16.1},{"s":"u","h":13.1,"v":-18.6},{"s":"u","h":13.5,"v":-19.6},{"s":"u","h":13.7,"v":-19},{"s":"u","h":13.9,"v":-20.2},{"s":"u","h":14.5,"v":-21.2},{"s":"u","h":14.9,"v":-22.6},{"s":"u","h":15.2,"v":-20},{"s":"u","h":15.6,"v":-20.8},{"s":"u","h":16,"v":-22},{"s":"u","h":16.3,"v":-22.9},{"s":"u","h":16.7,"v":-21},{"s":"u","h":17.2,"v":-20.2},{"s":"u","h":17.6,"v":-20.6},{"s":"u","h":18.3,"v":-22.6},{"s":"u","h":18.8,"v":-22.5},{"s":"u","h":19.3,"v":-23.5},{"s":"u","h":19.9,"v":-25.1},{"s":"u","h":20.4,"v":-24.8},{"s":"u","h":20.9,"v":-26.5},{"s":"u","h":21.3,"v":-28},{"s":"u","h":21.6,"v":-27},{"s":"u","h":21.9,"v":-26.5},{"s":"u","h":22.4,"v":-26.8},{"s":"u","h":23,"v":-27.5},{"s":"u","h":23.3,"v":-26.5},{"s":"u","h":23.75,"v":-28},
{"s":"v","h":0,"v":-0.5},{"s":"v","h":0.5,"v":-1.5},{"s":"v","h":1,"v":-1},{"s":"v","h":1.5,"v":-2.5},{"s":"v","h":2,"v":-3},{"s":"v","h":2.5,"v":-2},{"s":"v","h":3,"v":-3.5},{"s":"v","h":3.5,"v":-4},{"s":"v","h":4,"v":-3},{"s":"v","h":4.5,"v":-4.5},{"s":"v","h":5,"v":-5},{"s":"v","h":5.5,"v":-4},{"s":"v","h":6,"v":-5.5},{"s":"v","h":6.5,"v":-6},{"s":"v","h":7,"v":-5},{"s":"v","h":7.5,"v":-6.5},{"s":"v","h":8,"v":-7},{"s":"v","h":8.5,"v":-6},{"s":"v","h":9,"v":-7.5},{"s":"v","h":9.5,"v":-6.5},{"s":"v","h":10,"v":-7},{"s":"v","h":10.5,"v":-8},{"s":"v","h":11,"v":-7},{"s":"v","h":11.5,"v":-6.5},{"s":"v","h":11.8,"v":-3.5},{"s":"v","h":12.2,"v":-4.5},{"s":"v","h":12.7,"v":-5.5},{"s":"v","h":13,"v":-4},{"s":"v","h":13.5,"v":-6},{"s":"v","h":14,"v":-7.3},{"s":"v","h":14.5,"v":-8},{"s":"v","h":15,"v":-9},{"s":"v","h":15.5,"v":-9.5},{"s":"v","h":16,"v":-10.5},{"s":"v","h":16.5,"v":-11},{"s":"v","h":17,"v":-10.5},{"s":"v","h":17.5,"v":-11.5},{"s":"v","h":18,"v":-12},{"s":"v","h":18.5,"v":-11.5},{"s":"v","h":19,"v":-13},{"s":"v","h":19.5,"v":-13.5},{"s":"v","h":20,"v":-13},{"s":"v","h":20.5,"v":-14.4},{"s":"v","h":21,"v":-13.5},{"s":"v","h":21.6,"v":-11.8},{"s":"v","h":21.9,"v":-7.9},{"s":"v","h":22.3,"v":-8.5},{"s":"v","h":22.8,"v":-7.9},{"s":"v","h":23.2,"v":-8.8},{"s":"v","h":23.75,"v":-7.8},
{"s":"w","h":0,"v":-0.5},{"s":"w","h":0.5,"v":-1.5},{"s":"w","h":1,"v":-1},{"s":"w","h":1.5,"v":-2.5},{"s":"w","h":2,"v":-3},{"s":"w","h":2.5,"v":-2},{"s":"w","h":3,"v":-3.5},{"s":"w","h":3.5,"v":-3},{"s":"w","h":4,"v":-4},{"s":"w","h":4.5,"v":-3.5},{"s":"w","h":5,"v":-4.5},{"s":"w","h":5.5,"v":-3.5},{"s":"w","h":6,"v":-4},{"s":"w","h":6.5,"v":-2.5},{"s":"w","h":7,"v":-3},{"s":"w","h":7.3,"v":0},{"s":"w","h":7.5,"v":2.5},{"s":"w","h":8,"v":3},{"s":"w","h":8.5,"v":2},{"s":"w","h":9,"v":1.5},{"s":"w","h":9.5,"v":2.5},{"s":"w","h":10,"v":1},{"s":"w","h":10.5,"v":0.5},{"s":"w","h":11,"v":-0.5},{"s":"w","h":11.5,"v":0},{"s":"w","h":12,"v":-1},{"s":"w","h":12.5,"v":-0.5},{"s":"w","h":13,"v":-2},{"s":"w","h":13.5,"v":-1.5},{"s":"w","h":14,"v":-3},{"s":"w","h":14.5,"v":-4},{"s":"w","h":15,"v":-3.5},{"s":"w","h":15.5,"v":-5},{"s":"w","h":16,"v":-6},{"s":"w","h":16.5,"v":-5.5},{"s":"w","h":17,"v":-6.5},{"s":"w","h":17.5,"v":-7},{"s":"w","h":18,"v":-6.5},{"s":"w","h":18.5,"v":-8},{"s":"w","h":19,"v":-9},{"s":"w","h":19.5,"v":-8.5},{"s":"w","h":20,"v":-6},{"s":"w","h":20.5,"v":-7},{"s":"w","h":21,"v":-8},{"s":"w","h":21.5,"v":-9},{"s":"w","h":22,"v":-9.5},{"s":"w","h":22.5,"v":-10.5},{"s":"w","h":23,"v":-11},{"s":"w","h":23.5,"v":-12},{"s":"w","h":23.75,"v":-12.5}
]},
"mark": {"type": "line", "strokeWidth": 1, "clip": true},
"encoding": {
  "x": {"field": "h", "type": "quantitative", "scale": {"domain": [0, 23.75], "nice": false, "zero": false},
        "axis": {"orient": "bottom", "values": [0,1,2,3,4,5,6,7,8,9,10,11,12,13,14,15,16,17,18,19,20,21,22,23], "tickSize": -4, "labelPadding": 10, "labelFlush": false, "title": "Hour of Day", "titlePadding": 6}},
  "y": {"field": "v", "type": "quantitative", "scale": {"domain": [-30, 50], "nice": false},
        "axis": {"orient": "left", "values": [-30,-20,-10,0,10,20,30,40,50], "tickSize": -4, "labelPadding": 12, "title": "Cumulative (Z*Z)-1", "titleX": -33, "titleY": 250}},
  "color": {"field": "s", "type": "nominal", "legend": null,
    "scale": {"domain": ["a","b","c","d","e","f","g","h","i","j","k","l","m","n","o","p","q","r","s","t","u","v","w"],
              "range": ["#ff40ff","#5a5aff","#a00000","#0000ff","#0000ff","#00a000","#40ffff","#ffff00","#ff40ff","#ff0000","#5a5aff","#ff0000","#a00000","#ffff00","#a00000","#0000ff","#40ffff","#00a000","#40ffff","#00a000","#5a5aff","#ff40ff","#a00000"]}}
}
},
{
"data": {"values": [{}]},
"mark": {"type": "rule", "color": "#ff0000", "strokeWidth": 2},
"encoding": {"y": {"datum": 0, "type": "quantitative", "axis": {"orient": "right", "values": [-30,-20,-10,0,10,20,30,40,50], "tickSize": -4, "labels": false, "title": null}}}
},
{
"data": {"values": [{}]},
"mark": {"type": "rule", "color": "black", "strokeWidth": 1},
"encoding": {"x": {"datum": 0, "type": "quantitative", "axis": {"orient": "top", "values": [0,1,2,3,4,5,6,7,8,9,10,11,12,13,14,15,16,17,18,19,20,21,22,23], "tickSize": -4, "labels": false, "title": null}}}
}
]
}
